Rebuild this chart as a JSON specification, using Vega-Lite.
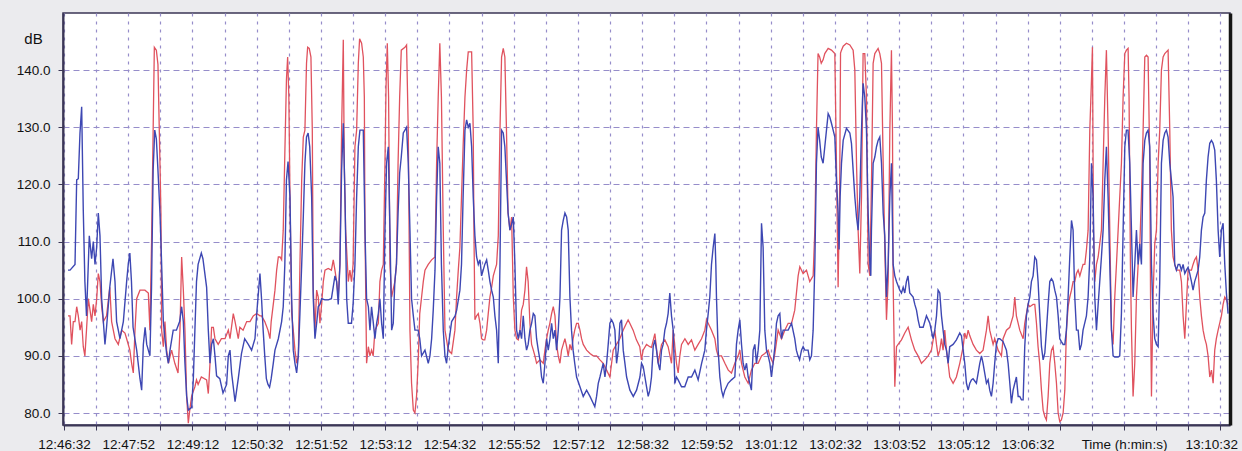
{
"$schema":"https://vega.github.io/schema/vega-lite/v6.json",
"width":1167,"height":412,
"autosize":{"type":"none"},
"padding":{"left":63,"top":13,"right":12,"bottom":26},
"background":"#ebebee",
"config":{"view":{"fill":"white","stroke":"#3b3656","strokeWidth":1.5},"font":"Liberation Sans"},
"datasets":{
"red":[{"t":5,"v":97},{"t":7.5,"v":97},{"t":9.5,"v":92},{"t":11.6,"v":96},{"t":13.7,"v":96},{"t":15.8,"v":98.6},{"t":17.8,"v":97},{"t":20,"v":94.5},{"t":22,"v":96},{"t":24,"v":91.6},{"t":26,"v":90},{"t":28,"v":94.5},{"t":30.3,"v":100},{"t":32.4,"v":98},{"t":34.4,"v":96},{"t":36.5,"v":99},{"t":38.6,"v":97},{"t":40.7,"v":100},{"t":42.7,"v":104.4},{"t":44.8,"v":103},{"t":46.9,"v":98.6},{"t":49,"v":96},{"t":53,"v":97},{"t":57,"v":102},{"t":59.3,"v":96},{"t":63.5,"v":93},{"t":67.6,"v":92},{"t":71.8,"v":94.5},{"t":75.9,"v":94},{"t":78,"v":93},{"t":82,"v":91},{"t":84.2,"v":88.7},{"t":86.3,"v":87},{"t":88.4,"v":94.5},{"t":90.5,"v":100},{"t":94.6,"v":101.5},{"t":100.8,"v":101.5},{"t":105,"v":101},{"t":107,"v":94.5},{"t":109,"v":109.7},{"t":111,"v":129.5},{"t":112.5,"v":144},{"t":115,"v":143.5},{"t":117,"v":141},{"t":119.5,"v":123.7},{"t":120.7,"v":115},{"t":121.6,"v":94.5},{"t":123.7,"v":91.6},{"t":125.7,"v":96},{"t":127.8,"v":91},{"t":130,"v":88.7},{"t":134,"v":91},{"t":138,"v":88.7},{"t":142,"v":87},{"t":144.4,"v":94.5},{"t":146.5,"v":107.3},{"t":148.6,"v":101.5},{"t":150.6,"v":94.5},{"t":152.7,"v":83},{"t":154.8,"v":78.2},{"t":157,"v":81},{"t":159,"v":83},{"t":163,"v":84.6},{"t":165,"v":85.8},{"t":167,"v":85},{"t":171,"v":86.3},{"t":177.6,"v":85.8},{"t":179.7,"v":83.4},{"t":181.8,"v":88.7},{"t":183.8,"v":95},{"t":186,"v":95},{"t":188,"v":93},{"t":192,"v":92},{"t":196,"v":93},{"t":200.5,"v":93},{"t":204.6,"v":94.5},{"t":206.7,"v":93},{"t":210.8,"v":97.4},{"t":213,"v":96},{"t":217,"v":93},{"t":219,"v":95},{"t":223,"v":94.5},{"t":227.5,"v":96},{"t":231.6,"v":96},{"t":235.7,"v":97},{"t":240,"v":97.4},{"t":244,"v":97},{"t":246,"v":97},{"t":250,"v":96},{"t":254,"v":94.5},{"t":256.5,"v":93},{"t":258,"v":96},{"t":260.6,"v":99},{"t":262.7,"v":101.5},{"t":264.8,"v":105},{"t":266.9,"v":107.3},{"t":269,"v":107.3},{"t":271,"v":106.8},{"t":273,"v":112},{"t":275,"v":125.4},{"t":277,"v":138.3},{"t":278.5,"v":142.3},{"t":280,"v":135.3},{"t":281.4,"v":117.8},{"t":283.5,"v":97.4},{"t":285.5,"v":94.5},{"t":287.6,"v":91},{"t":289.7,"v":88.7},{"t":291.8,"v":90},{"t":293.8,"v":106},{"t":296,"v":120.8},{"t":298,"v":128.3},{"t":300,"v":129.5},{"t":302,"v":141.2},{"t":303.4,"v":144},{"t":305.4,"v":143.8},{"t":307.5,"v":142.3},{"t":309.2,"v":129.5},{"t":310.4,"v":101.5},{"t":312.5,"v":94.5},{"t":314.6,"v":101.5},{"t":316.6,"v":100.3},{"t":318.7,"v":95.7},{"t":320.8,"v":99},{"t":322.9,"v":103},{"t":325,"v":105},{"t":329,"v":105.3},{"t":333,"v":105},{"t":335.3,"v":106.8},{"t":337.4,"v":105},{"t":339.5,"v":103},{"t":341.5,"v":100.3},{"t":343.6,"v":106},{"t":345.7,"v":129.5},{"t":347.8,"v":145.3},{"t":349,"v":123.7},{"t":350.7,"v":112},{"t":354,"v":103},{"t":356,"v":105},{"t":358,"v":103},{"t":360,"v":106},{"t":362.3,"v":126.6},{"t":364.4,"v":129.5},{"t":366.5,"v":141.2},{"t":368.1,"v":145.5},{"t":370.6,"v":144.7},{"t":372.7,"v":142.3},{"t":374,"v":135.3},{"t":374.8,"v":112},{"t":376.8,"v":88.7},{"t":379,"v":91.6},{"t":381,"v":90},{"t":383,"v":91},{"t":385,"v":90},{"t":387.2,"v":94.5},{"t":391.4,"v":95.7},{"t":393.4,"v":103},{"t":395.5,"v":105},{"t":397.6,"v":106},{"t":399.7,"v":123.7},{"t":401,"v":137},{"t":402.6,"v":144.7},{"t":404.2,"v":135.3},{"t":405.9,"v":106},{"t":408,"v":100.3},{"t":412,"v":103},{"t":414,"v":106},{"t":416,"v":123.7},{"t":418,"v":135.3},{"t":420,"v":143.5},{"t":424.6,"v":144},{"t":426.6,"v":144.4},{"t":428.7,"v":129.5},{"t":430.8,"v":94.5},{"t":432.8,"v":85.2},{"t":435,"v":80.5},{"t":437,"v":80},{"t":439,"v":82.9},{"t":441,"v":88.7},{"t":443,"v":97.4},{"t":445.3,"v":100.3},{"t":447.4,"v":103},{"t":449.5,"v":105},{"t":453.6,"v":106},{"t":457.8,"v":106.8},{"t":462,"v":107.3},{"t":464,"v":123.7},{"t":466,"v":135.3},{"t":468,"v":144.7},{"t":470,"v":135.3},{"t":472.3,"v":112},{"t":474.4,"v":94.5},{"t":478.5,"v":91},{"t":482.7,"v":90.4},{"t":486.8,"v":94.5},{"t":488.9,"v":100.3},{"t":491,"v":105},{"t":493,"v":109},{"t":495,"v":117.8},{"t":497,"v":126.6},{"t":499.3,"v":135.3},{"t":501.4,"v":140},{"t":503.4,"v":143.2},{"t":507.6,"v":143.2},{"t":509.6,"v":129.5},{"t":510.5,"v":112},{"t":511.7,"v":96.3},{"t":513.8,"v":97},{"t":515.9,"v":97.4},{"t":518,"v":95.7},{"t":520,"v":93},{"t":522,"v":92.8},{"t":524,"v":92.8},{"t":526.3,"v":94.5},{"t":528.3,"v":97.4},{"t":530.4,"v":100.3},{"t":532.5,"v":102},{"t":534.6,"v":104},{"t":536.6,"v":105},{"t":538.7,"v":106},{"t":540.8,"v":111},{"t":542.9,"v":129.5},{"t":544.9,"v":142.3},{"t":547,"v":143.8},{"t":549,"v":142.3},{"t":551,"v":129.5},{"t":553,"v":115},{"t":555.3,"v":112},{"t":557.4,"v":114.3},{"t":559.5,"v":100.3},{"t":561.5,"v":94.5},{"t":563.6,"v":93},{"t":565.7,"v":92.8},{"t":567.8,"v":94.5},{"t":569.8,"v":98},{"t":571.9,"v":99},{"t":574,"v":101.5},{"t":576,"v":105.6},{"t":578,"v":103},{"t":580.2,"v":95.7},{"t":582.3,"v":92},{"t":584.4,"v":91},{"t":586.4,"v":90},{"t":588.5,"v":88.7},{"t":592.7,"v":89.3},{"t":596.8,"v":88.7},{"t":598.9,"v":91},{"t":601,"v":93},{"t":603,"v":94.5},{"t":605,"v":95.7},{"t":607.2,"v":97.4},{"t":609.3,"v":98.6},{"t":611.4,"v":97},{"t":613.4,"v":92},{"t":615.5,"v":90},{"t":617.6,"v":88.7},{"t":619.6,"v":91},{"t":621.7,"v":92},{"t":623.8,"v":93},{"t":625.9,"v":91.6},{"t":627.9,"v":90},{"t":630,"v":92},{"t":632,"v":91},{"t":634,"v":93},{"t":636,"v":94.5},{"t":638.3,"v":95.7},{"t":640.4,"v":95.7},{"t":642.5,"v":94.5},{"t":644.5,"v":93},{"t":646.6,"v":92},{"t":650.8,"v":91},{"t":655,"v":90.4},{"t":659,"v":90},{"t":663.2,"v":90},{"t":667.4,"v":89.3},{"t":671.5,"v":88.7},{"t":675.7,"v":87.5},{"t":679.8,"v":86.3},{"t":681.9,"v":88.7},{"t":683.9,"v":91},{"t":688,"v":92},{"t":692.1,"v":93},{"t":696.3,"v":94.5},{"t":700.4,"v":95.7},{"t":702.5,"v":96.3},{"t":704.6,"v":95.7},{"t":708.7,"v":94.5},{"t":712.8,"v":92.8},{"t":717,"v":91.6},{"t":719.1,"v":89.3},{"t":721.2,"v":91},{"t":725.4,"v":92},{"t":729.5,"v":91.6},{"t":731.6,"v":91.5},{"t":735.8,"v":93.9},{"t":739.9,"v":88.7},{"t":744.1,"v":92},{"t":748.2,"v":92.8},{"t":752.3,"v":91.6},{"t":756.5,"v":88.7},{"t":758.6,"v":94.5},{"t":760.7,"v":91.6},{"t":762.7,"v":88.7},{"t":764.8,"v":87},{"t":766.9,"v":90},{"t":769,"v":92},{"t":773.2,"v":93},{"t":777.3,"v":92},{"t":781.4,"v":92.8},{"t":785.6,"v":91},{"t":789.7,"v":92},{"t":793.9,"v":93},{"t":798,"v":94.5},{"t":800.1,"v":96.3},{"t":802.2,"v":95.7},{"t":806.3,"v":94.5},{"t":810.5,"v":93},{"t":812.5,"v":91},{"t":814.6,"v":90},{"t":818.8,"v":90},{"t":823,"v":88.7},{"t":827.2,"v":87.5},{"t":831.2,"v":87},{"t":835.4,"v":88.7},{"t":839.5,"v":90},{"t":841.6,"v":91},{"t":843.7,"v":88.7},{"t":847.8,"v":86.3},{"t":852,"v":85.2},{"t":856,"v":87.5},{"t":860.3,"v":88.7},{"t":864.4,"v":88.7},{"t":868.6,"v":90},{"t":872.7,"v":90.4},{"t":876.9,"v":91},{"t":879,"v":90},{"t":883,"v":88.7},{"t":885.2,"v":90.4},{"t":889.3,"v":94.5},{"t":893.5,"v":93},{"t":897.6,"v":94.5},{"t":901.8,"v":95.7},{"t":906,"v":95.7},{"t":910,"v":98},{"t":914.2,"v":104},{"t":916.3,"v":105.6},{"t":920.4,"v":104.4},{"t":924.6,"v":105},{"t":928.7,"v":103},{"t":932.9,"v":104},{"t":935,"v":112},{"t":937,"v":129.5},{"t":939,"v":142.9},{"t":941,"v":142.3},{"t":943,"v":141.2},{"t":945.3,"v":141.8},{"t":947.4,"v":142.9},{"t":951.6,"v":143.8},{"t":955.7,"v":143.5},{"t":959.9,"v":142.9},{"t":961.9,"v":123.7},{"t":964,"v":102},{"t":966,"v":120},{"t":967,"v":143},{"t":968.2,"v":143.5},{"t":970.3,"v":144.2},{"t":974.4,"v":144.7},{"t":978.6,"v":144.4},{"t":982.7,"v":143.5},{"t":984.8,"v":140},{"t":986.9,"v":123.7},{"t":988.9,"v":112},{"t":991,"v":104.4},{"t":993.1,"v":117.8},{"t":995.1,"v":142.9},{"t":997.2,"v":142.9},{"t":999.3,"v":135.3},{"t":1001.4,"v":106},{"t":1003.5,"v":104},{"t":1005.5,"v":120},{"t":1007.6,"v":141.2},{"t":1009.7,"v":142.9},{"t":1013.8,"v":143.8},{"t":1015.9,"v":142.9},{"t":1018,"v":141.2},{"t":1020.1,"v":123.7},{"t":1022.1,"v":109},{"t":1024.2,"v":96.3},{"t":1026.3,"v":103},{"t":1028.4,"v":129.5},{"t":1030.4,"v":143.5},{"t":1031.7,"v":129.5},{"t":1032.5,"v":103},{"t":1034.6,"v":84.6},{"t":1036.7,"v":91.6},{"t":1038.7,"v":92},{"t":1042.9,"v":92.8},{"t":1047,"v":94},{"t":1051.2,"v":95},{"t":1055.3,"v":92.8},{"t":1059.5,"v":91},{"t":1063.6,"v":90},{"t":1067.8,"v":88.7},{"t":1071.9,"v":89.3},{"t":1076.1,"v":90},{"t":1080.2,"v":91},{"t":1084.4,"v":94.5},{"t":1086.5,"v":92},{"t":1088.5,"v":90},{"t":1090.6,"v":91},{"t":1092.7,"v":93},{"t":1094.7,"v":91},{"t":1096.8,"v":94.5},{"t":1098.9,"v":91},{"t":1101,"v":88.7},{"t":1103,"v":86.3},{"t":1107.2,"v":85.2},{"t":1111.3,"v":86.3},{"t":1115.5,"v":88.7},{"t":1119.7,"v":91.6},{"t":1121.7,"v":94},{"t":1123.8,"v":93},{"t":1125.9,"v":94.5},{"t":1128,"v":93.5},{"t":1132.1,"v":92},{"t":1136.2,"v":91},{"t":1140.4,"v":90.4},{"t":1144.5,"v":91},{"t":1148.7,"v":94.5},{"t":1150.8,"v":97},{"t":1152.8,"v":94.5},{"t":1157,"v":92},{"t":1159,"v":93},{"t":1163.2,"v":91},{"t":1167.4,"v":90},{"t":1169.4,"v":93},{"t":1173.6,"v":94.5},{"t":1177.8,"v":95},{"t":1181.9,"v":97},{"t":1184,"v":100.3},{"t":1186,"v":97},{"t":1190.2,"v":94.5},{"t":1194.4,"v":93},{"t":1196.4,"v":95.7},{"t":1198.5,"v":97.4},{"t":1200.6,"v":99},{"t":1202.7,"v":98.6},{"t":1206.8,"v":99},{"t":1208.9,"v":99},{"t":1211,"v":95.7},{"t":1213,"v":91.6},{"t":1215,"v":88.7},{"t":1217.2,"v":84},{"t":1219.3,"v":80.5},{"t":1221.4,"v":79.4},{"t":1223.4,"v":78.8},{"t":1225.5,"v":82.9},{"t":1227.6,"v":88.7},{"t":1229.7,"v":91},{"t":1231.7,"v":91.6},{"t":1233.8,"v":88.7},{"t":1235.9,"v":85.2},{"t":1238,"v":80},{"t":1240,"v":78.5},{"t":1242,"v":78.8},{"t":1244.2,"v":80},{"t":1246.3,"v":84},{"t":1248.3,"v":94.5},{"t":1250.4,"v":98.6},{"t":1252.5,"v":100.3},{"t":1254.6,"v":101.5},{"t":1256.6,"v":103},{"t":1258.7,"v":103},{"t":1260.8,"v":104.4},{"t":1262.9,"v":105},{"t":1265,"v":104},{"t":1267,"v":105},{"t":1269,"v":106},{"t":1271.2,"v":106},{"t":1273.2,"v":108.5},{"t":1275.3,"v":112},{"t":1277.4,"v":129.5},{"t":1279.5,"v":138.3},{"t":1280.7,"v":144},{"t":1282,"v":112},{"t":1283.6,"v":103},{"t":1285.7,"v":106},{"t":1287.8,"v":107.3},{"t":1289.8,"v":109.6},{"t":1291.9,"v":112},{"t":1294,"v":123.7},{"t":1296.1,"v":135.3},{"t":1298.1,"v":143.5},{"t":1300.2,"v":129.5},{"t":1302.3,"v":112},{"t":1304.4,"v":94.5},{"t":1306.4,"v":92},{"t":1308.5,"v":100.3},{"t":1310.6,"v":106},{"t":1312.7,"v":112},{"t":1314.7,"v":117.8},{"t":1316.8,"v":123.7},{"t":1318.9,"v":135.3},{"t":1321,"v":142.9},{"t":1323,"v":143.5},{"t":1325.1,"v":143.8},{"t":1326.3,"v":135.3},{"t":1328,"v":106},{"t":1329.3,"v":94.5},{"t":1331.3,"v":82.9},{"t":1333.4,"v":88.7},{"t":1335.5,"v":100.3},{"t":1337.6,"v":106},{"t":1339.6,"v":109},{"t":1341.7,"v":117.8},{"t":1343.8,"v":129.5},{"t":1345.9,"v":142.3},{"t":1348,"v":142.6},{"t":1350,"v":142.3},{"t":1352.1,"v":123.7},{"t":1353.3,"v":94.5},{"t":1354.2,"v":82.9},{"t":1356.2,"v":100.3},{"t":1358.3,"v":109.6},{"t":1360.4,"v":112},{"t":1362.5,"v":123.7},{"t":1364.5,"v":129.5},{"t":1366.6,"v":140},{"t":1368.7,"v":142.3},{"t":1370.8,"v":142.9},{"t":1372.8,"v":143.2},{"t":1374.9,"v":143.5},{"t":1377,"v":129.5},{"t":1379,"v":112},{"t":1381.1,"v":107.3},{"t":1383.2,"v":106},{"t":1385.3,"v":105},{"t":1389.4,"v":105},{"t":1391.5,"v":103},{"t":1393.6,"v":97},{"t":1395.7,"v":93},{"t":1397.7,"v":99},{"t":1399.8,"v":105},{"t":1404,"v":105},{"t":1406,"v":106},{"t":1408,"v":106.8},{"t":1410.2,"v":107.3},{"t":1412.3,"v":105},{"t":1414.3,"v":100.3},{"t":1416.4,"v":97},{"t":1418.5,"v":94.5},{"t":1420.6,"v":93},{"t":1422.6,"v":92},{"t":1424.7,"v":90},{"t":1426.8,"v":86.3},{"t":1428.9,"v":87.5},{"t":1431,"v":85.2},{"t":1433,"v":91},{"t":1435,"v":93},{"t":1437.2,"v":94.5},{"t":1441.3,"v":97},{"t":1443.4,"v":99},{"t":1445.5,"v":100.3},{"t":1447.5,"v":99.8},{"t":1449.6,"v":99}],
"blue":[{"t":5,"v":105},{"t":7.5,"v":105},{"t":13.7,"v":106},{"t":15.8,"v":120.8},{"t":17.8,"v":121},{"t":19.9,"v":129},{"t":22,"v":133.6},{"t":24,"v":115.5},{"t":26,"v":103},{"t":28,"v":97},{"t":31.5,"v":111},{"t":34.4,"v":107},{"t":36.5,"v":110},{"t":38.6,"v":106},{"t":40.7,"v":109},{"t":42.7,"v":115},{"t":44.8,"v":111},{"t":46.9,"v":100},{"t":49,"v":96},{"t":51,"v":92},{"t":53,"v":95},{"t":57,"v":102},{"t":61,"v":107},{"t":63.5,"v":103},{"t":65.5,"v":96},{"t":69.7,"v":93},{"t":73.9,"v":96},{"t":78,"v":103},{"t":80,"v":106},{"t":82,"v":108},{"t":84,"v":103},{"t":86,"v":95},{"t":90.5,"v":91},{"t":94.6,"v":86},{"t":96.7,"v":84},{"t":98.8,"v":92},{"t":101,"v":95},{"t":103,"v":92},{"t":107,"v":90},{"t":109,"v":102},{"t":111,"v":122.5},{"t":113,"v":129.5},{"t":115,"v":128},{"t":117,"v":122.5},{"t":119.5,"v":115},{"t":121.6,"v":106},{"t":123.7,"v":96},{"t":125.7,"v":93},{"t":127.8,"v":90.4},{"t":130,"v":88.7},{"t":132,"v":91},{"t":136,"v":94.5},{"t":140,"v":94.5},{"t":144,"v":96},{"t":146.5,"v":98.6},{"t":148.6,"v":96},{"t":150.6,"v":88.7},{"t":152.7,"v":83},{"t":154.8,"v":80.5},{"t":159,"v":81},{"t":161,"v":85.8},{"t":163,"v":94.5},{"t":165,"v":103},{"t":167,"v":106},{"t":171,"v":108},{"t":173,"v":107},{"t":177.6,"v":102},{"t":179.7,"v":94.5},{"t":181.8,"v":88.7},{"t":183.8,"v":92},{"t":186,"v":93},{"t":188,"v":90},{"t":190,"v":86.5},{"t":194,"v":86},{"t":198,"v":83.5},{"t":202.5,"v":85},{"t":204.6,"v":90},{"t":206.7,"v":91},{"t":208.7,"v":87},{"t":213,"v":82},{"t":217,"v":86},{"t":221,"v":90.4},{"t":225,"v":93},{"t":229.5,"v":92},{"t":233.6,"v":91},{"t":237.8,"v":93},{"t":240,"v":97.4},{"t":244,"v":104.4},{"t":246,"v":100},{"t":248,"v":94.5},{"t":250,"v":90},{"t":252,"v":86},{"t":254,"v":85},{"t":256,"v":84.5},{"t":258,"v":86},{"t":260.6,"v":88.7},{"t":262.7,"v":91},{"t":266.9,"v":93},{"t":271,"v":96},{"t":273,"v":98.6},{"t":275,"v":106},{"t":277,"v":120.8},{"t":279,"v":124},{"t":281.4,"v":117.8},{"t":283.5,"v":100},{"t":285.5,"v":91},{"t":287.6,"v":88.7},{"t":289.7,"v":87},{"t":291.8,"v":90},{"t":293.8,"v":97.4},{"t":296,"v":106},{"t":298,"v":114.4},{"t":300,"v":123.7},{"t":302,"v":128.3},{"t":304,"v":129},{"t":306,"v":126.6},{"t":308.4,"v":117.8},{"t":310.4,"v":100},{"t":312.5,"v":93},{"t":314.6,"v":95.7},{"t":316.6,"v":98.6},{"t":318.7,"v":99},{"t":320.8,"v":100},{"t":325,"v":99.8},{"t":329,"v":99.8},{"t":333,"v":100},{"t":337.4,"v":104},{"t":339.5,"v":103},{"t":341.5,"v":99},{"t":343.6,"v":106},{"t":345.7,"v":122.5},{"t":347.8,"v":130.7},{"t":349.9,"v":117.8},{"t":352,"v":100},{"t":354,"v":95.7},{"t":358,"v":95.7},{"t":360,"v":99},{"t":362.3,"v":106},{"t":364.4,"v":117.8},{"t":366.5,"v":126.6},{"t":368.5,"v":129.5},{"t":372.7,"v":129.5},{"t":374.8,"v":112},{"t":376.8,"v":100},{"t":379,"v":98.6},{"t":381,"v":94.5},{"t":383,"v":98.6},{"t":385,"v":96},{"t":387.2,"v":93},{"t":389.3,"v":95.7},{"t":391.4,"v":97.4},{"t":393.4,"v":100},{"t":395.5,"v":95.7},{"t":397.6,"v":93},{"t":399.7,"v":112},{"t":401.7,"v":123.7},{"t":403.8,"v":126.6},{"t":405.9,"v":112},{"t":408,"v":94.5},{"t":410,"v":95.7},{"t":412,"v":103},{"t":414,"v":106},{"t":416,"v":115},{"t":418,"v":122},{"t":420,"v":124.8},{"t":422.5,"v":129},{"t":424.6,"v":129.5},{"t":426.6,"v":130},{"t":428.7,"v":123.7},{"t":430.8,"v":112},{"t":432.8,"v":100},{"t":435,"v":97},{"t":437,"v":94.5},{"t":441,"v":94.5},{"t":443,"v":93},{"t":445.3,"v":90},{"t":449.5,"v":91},{"t":453.6,"v":88.7},{"t":455.7,"v":90},{"t":457.8,"v":93},{"t":459.8,"v":98},{"t":462,"v":105},{"t":464,"v":117.8},{"t":466,"v":126.6},{"t":468,"v":123.7},{"t":470,"v":106},{"t":472.3,"v":94.5},{"t":474.4,"v":90},{"t":476.4,"v":88.7},{"t":478.5,"v":91.6},{"t":482.7,"v":96},{"t":487,"v":97},{"t":489,"v":98},{"t":493,"v":101.5},{"t":495,"v":106},{"t":497,"v":117.8},{"t":499.3,"v":129.5},{"t":501.4,"v":131.3},{"t":503.4,"v":130},{"t":505.5,"v":130.7},{"t":507.6,"v":126.6},{"t":509.6,"v":117.8},{"t":511.7,"v":111},{"t":513.8,"v":107.3},{"t":515.9,"v":106},{"t":518,"v":106.8},{"t":520,"v":104},{"t":522,"v":105},{"t":524,"v":106},{"t":526.3,"v":106.8},{"t":528.3,"v":105},{"t":530.4,"v":103},{"t":532.5,"v":101.5},{"t":534.6,"v":100.3},{"t":536.6,"v":97},{"t":538.7,"v":94.5},{"t":540.8,"v":88.7},{"t":542.9,"v":106},{"t":544.9,"v":129.5},{"t":547,"v":129},{"t":549,"v":126.6},{"t":551,"v":120.8},{"t":553,"v":115},{"t":555.3,"v":112},{"t":557.4,"v":113},{"t":559.5,"v":114.3},{"t":561.5,"v":106},{"t":563.6,"v":94.5},{"t":565.7,"v":93},{"t":567.8,"v":94.5},{"t":569.8,"v":93},{"t":571.9,"v":97},{"t":574,"v":93},{"t":576,"v":91},{"t":578,"v":92},{"t":580.2,"v":94.5},{"t":582.3,"v":95.7},{"t":584.4,"v":97.4},{"t":586.4,"v":97},{"t":588.5,"v":93},{"t":590.6,"v":91},{"t":592.7,"v":89.3},{"t":594.7,"v":86.3},{"t":596.8,"v":85.2},{"t":598.9,"v":88.7},{"t":601,"v":93},{"t":603,"v":91},{"t":605,"v":92.8},{"t":607.2,"v":95.7},{"t":609.3,"v":93},{"t":611.4,"v":94.5},{"t":613.4,"v":91},{"t":615.5,"v":94.5},{"t":617.6,"v":100.3},{"t":619.6,"v":112},{"t":621.7,"v":113.7},{"t":623.8,"v":115},{"t":625.9,"v":114.3},{"t":627.9,"v":112},{"t":630,"v":100.3},{"t":632,"v":94.5},{"t":634,"v":91},{"t":636,"v":88.7},{"t":638.3,"v":86.3},{"t":642.5,"v":84.6},{"t":646.6,"v":82.9},{"t":650.8,"v":84},{"t":655,"v":82.9},{"t":659,"v":81.7},{"t":661,"v":81.1},{"t":663.2,"v":82.9},{"t":665.3,"v":85.2},{"t":667.4,"v":86.3},{"t":669.4,"v":87.5},{"t":671.5,"v":88.7},{"t":673.6,"v":86.3},{"t":675.7,"v":88.7},{"t":677.7,"v":92},{"t":679.8,"v":95.7},{"t":681.9,"v":96.3},{"t":684,"v":95.7},{"t":686,"v":94.5},{"t":688.1,"v":88.7},{"t":690.2,"v":91},{"t":692.3,"v":95.7},{"t":694.3,"v":96.3},{"t":696.4,"v":91},{"t":698.5,"v":88.7},{"t":700.6,"v":86.3},{"t":704.7,"v":84},{"t":708.9,"v":82.9},{"t":713,"v":84},{"t":717.2,"v":86.3},{"t":719.2,"v":88.7},{"t":721.3,"v":88.1},{"t":725.4,"v":84.6},{"t":727.5,"v":82.9},{"t":729.5,"v":84},{"t":731.6,"v":86.3},{"t":733.7,"v":91.6},{"t":735.8,"v":92.8},{"t":737.8,"v":91},{"t":739.9,"v":88.7},{"t":742,"v":87.5},{"t":744.1,"v":91},{"t":746.1,"v":92},{"t":748.2,"v":94.5},{"t":750.3,"v":95.7},{"t":752.3,"v":97.4},{"t":754.4,"v":101},{"t":756.5,"v":97},{"t":758.6,"v":94.5},{"t":760.7,"v":85.2},{"t":762.7,"v":86.3},{"t":764.8,"v":85.8},{"t":769,"v":84.6},{"t":773,"v":84.6},{"t":777.3,"v":86.3},{"t":781.4,"v":86.3},{"t":785.6,"v":87.5},{"t":789.7,"v":85.8},{"t":794,"v":88.7},{"t":798,"v":91},{"t":800,"v":94.5},{"t":802.2,"v":97.4},{"t":804.2,"v":100.3},{"t":806.3,"v":106},{"t":808.4,"v":109},{"t":810.5,"v":111.4},{"t":811.7,"v":106},{"t":812.5,"v":100.3},{"t":814.6,"v":91},{"t":816.7,"v":86.3},{"t":818.8,"v":84},{"t":820.8,"v":82.9},{"t":823,"v":84},{"t":827,"v":85.2},{"t":831.2,"v":85.8},{"t":835.4,"v":86.3},{"t":837.4,"v":92},{"t":839.5,"v":94.5},{"t":841.6,"v":96.3},{"t":843.7,"v":92},{"t":845.7,"v":88.7},{"t":847.8,"v":87.5},{"t":849.9,"v":88.7},{"t":852,"v":86.3},{"t":854,"v":85.2},{"t":856,"v":84},{"t":858.2,"v":91},{"t":860.3,"v":92},{"t":862.3,"v":88.7},{"t":864.4,"v":91},{"t":866.5,"v":94.5},{"t":868.6,"v":113.2},{"t":870.6,"v":109},{"t":872.7,"v":94.5},{"t":874.8,"v":91},{"t":876.9,"v":90},{"t":879,"v":88.7},{"t":881,"v":86.3},{"t":883,"v":88.7},{"t":885.2,"v":91.6},{"t":887.2,"v":95.7},{"t":889.3,"v":97},{"t":891.4,"v":97.4},{"t":893.5,"v":93},{"t":895.5,"v":94.5},{"t":897.6,"v":94.5},{"t":901.8,"v":94.5},{"t":906,"v":95.7},{"t":910,"v":93},{"t":912,"v":91},{"t":914,"v":90},{"t":916,"v":89.3},{"t":918.4,"v":91},{"t":920.4,"v":91.6},{"t":922.5,"v":91},{"t":926.6,"v":91},{"t":928.7,"v":89.3},{"t":930.8,"v":90},{"t":932.9,"v":94.5},{"t":935,"v":106},{"t":937,"v":123.7},{"t":939,"v":130},{"t":941,"v":127.7},{"t":943,"v":124.8},{"t":945.3,"v":123.7},{"t":947.4,"v":126.6},{"t":949.5,"v":129.5},{"t":951.6,"v":132.4},{"t":953.6,"v":131.8},{"t":955.7,"v":130.7},{"t":957.8,"v":129.5},{"t":959.9,"v":128.3},{"t":961.9,"v":120.8},{"t":964,"v":115},{"t":965.2,"v":108.6},{"t":966.5,"v":117.8},{"t":968.2,"v":123.7},{"t":970.3,"v":127.7},{"t":974.4,"v":129.8},{"t":978.6,"v":129},{"t":980.6,"v":127.2},{"t":982.7,"v":122.5},{"t":984.8,"v":117.8},{"t":986.9,"v":114.3},{"t":988.9,"v":112},{"t":991,"v":117.8},{"t":993.1,"v":129.5},{"t":995.1,"v":137.7},{"t":997.2,"v":135.3},{"t":999.3,"v":129.5},{"t":1001.4,"v":115},{"t":1003.5,"v":106},{"t":1004.7,"v":104},{"t":1005.5,"v":112},{"t":1007.6,"v":123.7},{"t":1009.7,"v":124.8},{"t":1011.8,"v":126.6},{"t":1013.8,"v":127.7},{"t":1015.9,"v":128.3},{"t":1018,"v":123.7},{"t":1020.1,"v":115},{"t":1022.1,"v":111},{"t":1024.2,"v":100.3},{"t":1026.3,"v":106},{"t":1028.4,"v":117.8},{"t":1030.4,"v":123.7},{"t":1032.5,"v":106},{"t":1034.6,"v":104},{"t":1036.7,"v":103},{"t":1040.8,"v":101.5},{"t":1042.9,"v":101},{"t":1045,"v":102},{"t":1047,"v":101},{"t":1049,"v":103},{"t":1051,"v":104},{"t":1053.2,"v":101},{"t":1057.4,"v":100.3},{"t":1059.5,"v":99},{"t":1061.6,"v":98},{"t":1063.6,"v":96.3},{"t":1065.7,"v":95},{"t":1069.9,"v":95},{"t":1074,"v":97},{"t":1078.2,"v":95.7},{"t":1082.3,"v":93},{"t":1084.4,"v":94.5},{"t":1086.5,"v":97},{"t":1088.5,"v":101.5},{"t":1090.6,"v":101},{"t":1092.7,"v":97},{"t":1094.7,"v":94.5},{"t":1096.8,"v":92},{"t":1098.9,"v":91},{"t":1101,"v":88.7},{"t":1103,"v":91.6},{"t":1107.2,"v":92},{"t":1111.3,"v":92.8},{"t":1115.5,"v":94},{"t":1117.6,"v":93.5},{"t":1119.7,"v":91},{"t":1121.7,"v":88.7},{"t":1123.8,"v":85.2},{"t":1125.9,"v":84},{"t":1128,"v":85.2},{"t":1130,"v":85.8},{"t":1132,"v":86},{"t":1136.2,"v":85.2},{"t":1140.4,"v":88.7},{"t":1142.5,"v":90},{"t":1144.5,"v":88.7},{"t":1148.7,"v":85.2},{"t":1150.8,"v":85.8},{"t":1152.8,"v":84},{"t":1154.9,"v":82.9},{"t":1157,"v":85.2},{"t":1159,"v":88.7},{"t":1161.1,"v":92},{"t":1163.2,"v":93},{"t":1165.3,"v":93},{"t":1169.4,"v":92.5},{"t":1173.6,"v":91},{"t":1175.7,"v":88.7},{"t":1177.8,"v":85.2},{"t":1179.8,"v":81.7},{"t":1181.9,"v":84},{"t":1184,"v":85.2},{"t":1186,"v":86.3},{"t":1188.2,"v":82.9},{"t":1190.2,"v":82.9},{"t":1192.3,"v":82.3},{"t":1194.4,"v":82.3},{"t":1196.4,"v":91.6},{"t":1198.5,"v":97},{"t":1200.6,"v":99},{"t":1202.7,"v":100.3},{"t":1204.7,"v":103},{"t":1206.8,"v":104},{"t":1208.9,"v":107.3},{"t":1211,"v":106.8},{"t":1213,"v":103},{"t":1215,"v":97.4},{"t":1217.2,"v":91.6},{"t":1219.3,"v":89.3},{"t":1221.4,"v":90.5},{"t":1223.4,"v":94.5},{"t":1225.5,"v":99},{"t":1227.6,"v":103},{"t":1229.7,"v":103.5},{"t":1231.7,"v":103},{"t":1233.8,"v":101.5},{"t":1235.9,"v":100.3},{"t":1238,"v":97},{"t":1240,"v":93},{"t":1242,"v":92.5},{"t":1244.2,"v":92},{"t":1246.3,"v":92},{"t":1248.3,"v":94.5},{"t":1250.4,"v":100.3},{"t":1252.5,"v":107.3},{"t":1254.6,"v":113.7},{"t":1256.6,"v":112},{"t":1258.7,"v":100.3},{"t":1260.8,"v":94.5},{"t":1262.9,"v":94.5},{"t":1265,"v":91},{"t":1267,"v":92},{"t":1269,"v":94.5},{"t":1271,"v":95.7},{"t":1273.2,"v":97},{"t":1275.3,"v":100.3},{"t":1277.4,"v":107.3},{"t":1279.5,"v":123.7},{"t":1281.5,"v":117.8},{"t":1283.6,"v":100.3},{"t":1285.7,"v":94.5},{"t":1287.8,"v":99},{"t":1289.8,"v":103},{"t":1291.9,"v":107.3},{"t":1294,"v":112},{"t":1296.1,"v":120.8},{"t":1298.1,"v":126.6},{"t":1300.2,"v":117.8},{"t":1302.3,"v":106},{"t":1304.4,"v":94.5},{"t":1306.4,"v":90},{"t":1308.5,"v":89.8},{"t":1312.7,"v":89.8},{"t":1314.7,"v":90},{"t":1316.8,"v":97.4},{"t":1318.9,"v":112},{"t":1321,"v":126.6},{"t":1323,"v":129.5},{"t":1325,"v":129.5},{"t":1327.2,"v":123.7},{"t":1329.3,"v":112},{"t":1331.3,"v":100.3},{"t":1333.4,"v":106},{"t":1335.5,"v":112},{"t":1337.6,"v":106},{"t":1339.6,"v":109.6},{"t":1341.7,"v":106},{"t":1343.8,"v":123.7},{"t":1345.9,"v":127.7},{"t":1347.9,"v":129},{"t":1350,"v":129.5},{"t":1352.1,"v":126.6},{"t":1354.2,"v":106},{"t":1356.2,"v":97.4},{"t":1358.3,"v":93},{"t":1360.4,"v":92},{"t":1362.5,"v":91.6},{"t":1364.5,"v":103},{"t":1366.6,"v":123.7},{"t":1368.7,"v":127.7},{"t":1370.8,"v":129},{"t":1372.8,"v":129.5},{"t":1374.9,"v":128.3},{"t":1377,"v":123.7},{"t":1379,"v":120.8},{"t":1381.1,"v":117.8},{"t":1383.2,"v":106},{"t":1385.3,"v":105},{"t":1387.4,"v":106},{"t":1389.4,"v":106},{"t":1391.5,"v":105},{"t":1393.6,"v":106},{"t":1395.7,"v":104.4},{"t":1397.7,"v":105},{"t":1399.8,"v":105.5},{"t":1401.9,"v":104.4},{"t":1404,"v":103},{"t":1406,"v":101.5},{"t":1408,"v":103},{"t":1410.2,"v":104},{"t":1412.3,"v":105},{"t":1414.3,"v":107.3},{"t":1416.4,"v":112},{"t":1418.5,"v":114.3},{"t":1420.6,"v":115},{"t":1422.6,"v":120.8},{"t":1424.7,"v":124.8},{"t":1426.8,"v":127.2},{"t":1428.9,"v":127.7},{"t":1430.9,"v":127.2},{"t":1433,"v":126},{"t":1435,"v":120.8},{"t":1437.2,"v":112},{"t":1439.2,"v":107.3},{"t":1441.3,"v":112},{"t":1443.4,"v":113.2},{"t":1445.5,"v":106},{"t":1447.5,"v":101},{"t":1449.6,"v":97.4}]
},
"resolve":{"axis":{"x":"independent","y":"independent"}},
"layer":[
{"data":{"name":"red"},
 "mark":{"type":"line","color":"#e0525e","strokeWidth":1.3},
 "encoding":{
  "x":{"field":"t","type":"quantitative","scale":{"domain":[-1.25,1452],"nice":false,"zero":false},
   "axis":{"title":null,"values":[0,40,80,120,160,200,240,280,320,360,400,440,480,520,560,600,640,680,720,760,800,840,880,920,960,1000,1040,1080,1120,1160,1200,1240,1280,1320,1360,1400,1440],
    "labelExpr":"datum.value == 1320 ? 'Time (h:min:s)' : ((datum.value % 80 != 0 || datum.value == 1280 || datum.value == 1360) ? '' : timeFormat(datetime(2020, 0, 1, 12, 46, 32 + datum.value), '%H:%M:%S'))",
    "labelOffset":{"condition":{"test":"datum.value == 1440","value":-9},"value":0},
    "labelOverlap":false,"labelFlush":false,"labelFontSize":13.5,"labelColor":"#111111","labelPadding":7,
    "tickSize":5,"tickColor":"#3b3656","domainColor":"#3b3656","domainWidth":2,
    "grid":true,"gridColor":"#968dca","gridDash":[3,5],"gridWidth":1.2}},
  "y":{"field":"v","type":"quantitative","scale":{"domain":[77.9,150],"nice":false,"zero":false},
   "axis":{"values":[80,90,100,110,120,130,140],"format":".1f","title":"dB","titleAngle":0,"titleX":-30,"titleY":25,"titleAlign":"center","titleBaseline":"middle","titleFontSize":15,"titleFontWeight":"normal","titleColor":"#111111",
    "labelFontSize":13.5,"labelColor":"#111111","labelPadding":8,"tickSize":5,"tickColor":"#3b3656","domainColor":"#3b3656","domainWidth":2,
    "grid":true,"gridColor":"#968dca","gridDash":[6,4],"gridWidth":1.2}}
 }},
{"data":{"name":"blue"},
 "mark":{"type":"line","color":"#3d47b3","strokeWidth":1.4},
 "encoding":{
  "x":{"field":"t","type":"quantitative","scale":{"domain":[-1.25,1452],"nice":false,"zero":false},"axis":null},
  "y":{"field":"v","type":"quantitative","scale":{"domain":[77.9,150],"nice":false,"zero":false},
   "axis":{"orient":"right","title":null,"labels":false,"ticks":false,"grid":false,"domainColor":"#151515","domainWidth":3.5}}
 }}
]
}
